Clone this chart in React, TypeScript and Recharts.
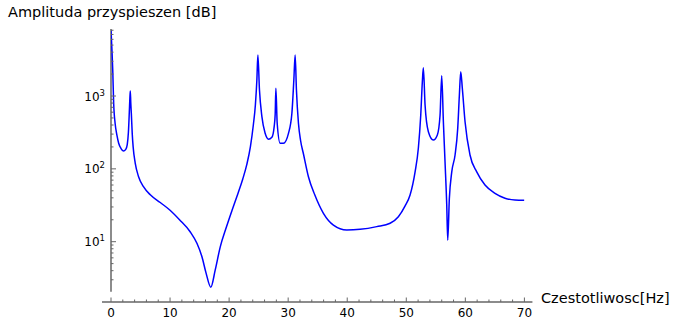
import React from 'react';
import { LineChart, Line, XAxis, YAxis, ReferenceLine } from 'recharts';

const frequencies = [0, 0.3, 0.45, 0.7, 1.0, 1.3, 1.7, 2.1, 2.5, 2.75, 2.95, 3.1, 3.2, 3.27, 3.35, 3.45, 3.6, 3.75, 4.1, 4.67, 5.5, 6.65, 8.34, 10, 11.6, 13.4, 14.55, 15.4, 16.1, 16.9, 17.65, 18.5, 19.5, 20.5, 21.5, 22.3, 23.0, 23.6, 24.1, 24.45, 24.7, 24.87, 25.14, 25.55, 26.1, 26.67, 27.24, 27.63, 27.8, 27.92, 28.14, 28.65, 29.2, 30.05, 30.63, 30.96, 31.18, 31.4, 31.74, 32.1, 32.59, 33.43, 34.5, 35.97, 37.66, 39.93, 42.18, 45, 47.26, 48.66, 49.8, 50.64, 51.49, 52.05, 52.45, 52.72, 52.89, 53.18, 53.74, 54.58, 55.26, 55.72, 56.0, 56.28, 56.56, 56.85, 57.02, 57.29, 57.7, 58.26, 58.71, 58.99, 59.22, 59.49, 59.95, 60.79, 61.93, 63.33, 65.02, 66.71, 68.4, 70];

const amplitudes = [8000, 2200, 800, 420, 290, 225, 190, 176, 185, 215, 320, 600, 950, 1170, 800, 560, 300, 200, 120, 78, 57, 44, 34.5, 27, 20, 13.7, 9.5, 6.2, 3.7, 2.37, 4.1, 8.5, 15.5, 27, 46, 72, 115, 200, 400, 760, 1660, 3650, 1210, 520, 308, 255, 271, 380, 560, 1275, 422, 224, 224, 307, 580, 1660, 3650, 1210, 422, 245, 160, 78, 44, 24.5, 16.9, 14.5, 14.8, 16.1, 17.9, 22, 31, 43.7, 91, 195, 548, 1570, 2440, 752, 324, 249, 292, 548, 1900, 444, 125, 32, 10.5, 39, 91, 155, 360, 1030, 2160, 1275, 444, 155, 91, 60, 46, 39.5, 37.3, 37];

const xTicks = [0, 2, 4, 6, 8, 10, 12, 14, 16, 18, 20, 22, 24, 26, 28, 30, 32, 34, 36, 38, 40, 42, 44, 46, 48, 50, 52, 54, 56, 58, 60, 62, 64, 66, 68, 70];
const xMajorTicks = [0, 10, 20, 30, 40, 50, 60, 70];
const yTicks = [3, 4, 5, 6, 7, 8, 9, 10, 20, 30, 40, 50, 60, 70, 80, 90, 100, 200, 300, 400, 500, 600, 700, 800, 900, 1000, 2000, 3000, 4000, 5000, 6000, 7000, 8000];
const yMajorTicks = [10, 100, 1000];
const yMajorExponents = ['1', '2', '3'];

const X_DOMAIN = [0, 70];
const Y_DOMAIN = [1.486, 8320];
const X_AXIS_EXTENT = [-1.53, 71.36];
const Y_AXIS_EXTENT = [2.06, 8320];

const yLabel = 'Amplituda przyspieszen [dB]';
const xLabel = 'Czestotliwosc[Hz]';

const AXIS_COLOR = '#666666';
const FONT = '"DejaVu Sans", sans-serif';

const data = frequencies.map((f, i) => ({ f, amp: amplitudes[i] }));

const YTick = (props: any) => {
  const { x, y, payload } = props;
  const v = payload.value;
  const idx = yMajorTicks.indexOf(v);
  const major = idx >= 0;
  return (
    <g>
      <line x1={x} x2={x + (major ? 5 : 2.5)} y1={y} y2={y} stroke={AXIS_COLOR} strokeWidth={1} />
      {major && (
        <text x={x - 6} y={y + 4.5} textAnchor="end" fontSize={12} fill="#000" fontFamily={FONT}>
          10
          <tspan dy={-5} fontSize={8.5}>
            {yMajorExponents[idx]}
          </tspan>
        </text>
      )}
    </g>
  );
};

const XTick = (props: any) => {
  const { x, y, payload } = props;
  const v = payload.value;
  const major = xMajorTicks.includes(v);
  return (
    <g>
      <line x1={x} x2={x} y1={y} y2={y - (major ? 4.5 : 2.5)} stroke={AXIS_COLOR} strokeWidth={1} />
      {major && (
        <text x={x} y={y + 15} textAnchor="middle" fontSize={12} fill="#000" fontFamily={FONT}>
          {v}
        </text>
      )}
    </g>
  );
};

export default function App() {
  return (
    <div style={{ position: 'absolute', left: 0, top: 0, width: 675, height: 328, background: '#fff' }}>
      <LineChart
        width={675}
        height={328}
        data={data}
        margin={{ top: 29, right: 150.6, bottom: 0, left: 61 }}
      >
        <XAxis
          dataKey="f"
          type="number"
          domain={X_DOMAIN}
          ticks={xTicks}
          interval={0}
          tick={<XTick />}
          tickLine={false}
          axisLine={false}
          tickSize={0}
          tickMargin={0}
          height={26}
          allowDataOverflow
        />
        <YAxis
          type="number"
          scale="log"
          domain={Y_DOMAIN}
          ticks={yTicks}
          interval={0}
          tick={<YTick />}
          tickLine={false}
          axisLine={false}
          tickSize={0}
          tickMargin={0}
          width={50}
          allowDataOverflow
        />
        <ReferenceLine
          segment={[
            { x: X_AXIS_EXTENT[0], y: Y_DOMAIN[0] },
            { x: X_AXIS_EXTENT[1], y: Y_DOMAIN[0] },
          ]}
          ifOverflow="visible"
          stroke={AXIS_COLOR}
          strokeWidth={1.5}
        />
        <ReferenceLine
          segment={[
            { x: X_DOMAIN[0], y: Y_AXIS_EXTENT[0] },
            { x: X_DOMAIN[0], y: Y_AXIS_EXTENT[1] },
          ]}
          ifOverflow="visible"
          stroke={AXIS_COLOR}
          strokeWidth={1.5}
        />
        <Line
          dataKey="amp"
          type="monotone"
          stroke="#0000ff"
          strokeWidth={1.5}
          dot={false}
          isAnimationActive={false}
        />
      </LineChart>
      <svg
        width={675}
        height={328}
        style={{ position: 'absolute', left: 0, top: 0, pointerEvents: 'none' }}
      >
        <text x={8} y={17} fontSize={14.5} fill="#000" fontFamily={FONT}>
          {yLabel}
        </text>
        <text x={541} y={303} fontSize={14.5} fill="#000" fontFamily={FONT}>
          {xLabel}
        </text>
      </svg>
    </div>
  );
}
